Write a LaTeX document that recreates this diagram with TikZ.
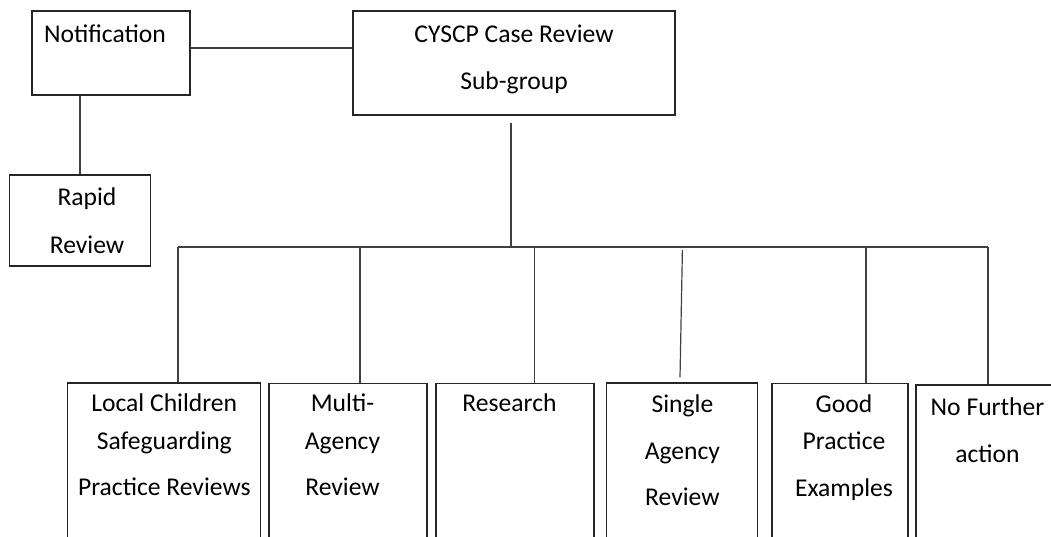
\documentclass[tikz,border=0pt]{standalone}
\usepackage{fontspec}
\setmainfont{Carlito}
\usepackage{tikz}
\usetikzlibrary{positioning}

\begin{document}
\begin{tikzpicture}[
  x=1pt, y=-1pt,
  box/.style={draw=black!85, line width=1.1pt, inner sep=0pt},
  txt/.style={font=\fontsize{25.6}{46}\selectfont, align=center, inner sep=0pt, anchor=north},
  conn/.style={black!75, line width=1.2pt}]
  \useasboundingbox (0,0) rectangle (1051,537);
  \clip (0,0) rectangle (1051,537);
  % top row
  \node[box, minimum width=158pt, minimum height=84pt,
        label={[txt, xshift=-6pt, yshift=-14pt]north:Notification}] (note) at (111,53) {};
  \node[box, minimum width=322pt, minimum height=104pt,
        label={[txt, yshift=-14pt]north:CYSCP Case Review\\[1pt]Sub-group}] (cyscp) at (514,63) {};
  \node[box, minimum width=141pt, minimum height=91pt,
        label={[txt, xshift=7pt, yshift=-13pt]north:Rapid\\[2pt]Review}] (rapid) at (80,220.5) {};
  % outcomes, cut off by the page edge
  \node[box, minimum width=193pt, minimum height=177pt,
        label={[txt, yshift=-11pt]north:Local Children\\[-8pt]Safeguarding\\Practice Reviews}] (lcspr) at (164.3,471.5) {};
  \node[box, minimum width=158pt, minimum height=177pt,
        label={[txt, xshift=-5.5pt, yshift=-11pt]north:Multi-\\[-8pt]Agency\\Review}] (mar) at (348,472) {};
  \node[box, minimum width=158pt, minimum height=177pt,
        label={[txt, xshift=-5.5pt, yshift=-11pt]north:Research}] (res) at (515,472) {};
  \node[box, minimum width=151pt, minimum height=177pt,
        label={[txt, yshift=-12pt]north:Single\\[1pt]Agency\\Review}] (sar) at (682.4,471.5) {};
  \node[box, minimum width=136pt, minimum height=177pt,
        label={[txt, xshift=4pt, yshift=-12pt]north:Good\\[-9pt]Practice\\[1pt]Examples}] (gpe) at (840,472) {};
  \node[box, minimum width=150pt, minimum height=177pt,
        label={[txt, xshift=-3.5pt, yshift=-13pt]north:No Further\\[1pt]action}] (nfa) at (991,473.5) {};
  \coordinate (bus) at (511,247);
  % links
  \draw[conn] ([yshift=5pt]note.east) -- ([yshift=5pt]note.east -| cyscp.west);
  \draw[conn] (rapid.north) -- (rapid.north |- note.south);
  \draw[conn] ([xshift=-3pt,yshift=-7pt]cyscp.south) -- (bus);
  \draw[conn] ([xshift=13.7pt]lcspr.north |- bus) -- ([xshift=-3pt]nfa.north |- bus);
  \foreach \b/\dx in {lcspr/13.7, mar/12, res/19.6, gpe/26, nfa/-3}
    \draw[conn] ([xshift=\dx pt]\b.north) -- ([xshift=\dx pt]\b.north |- bus);
  \draw[conn] ([yshift=-3pt]sar.north |- bus) -- ([xshift=-2.4pt,yshift=5pt]sar.north);
\end{tikzpicture}
\end{document}
